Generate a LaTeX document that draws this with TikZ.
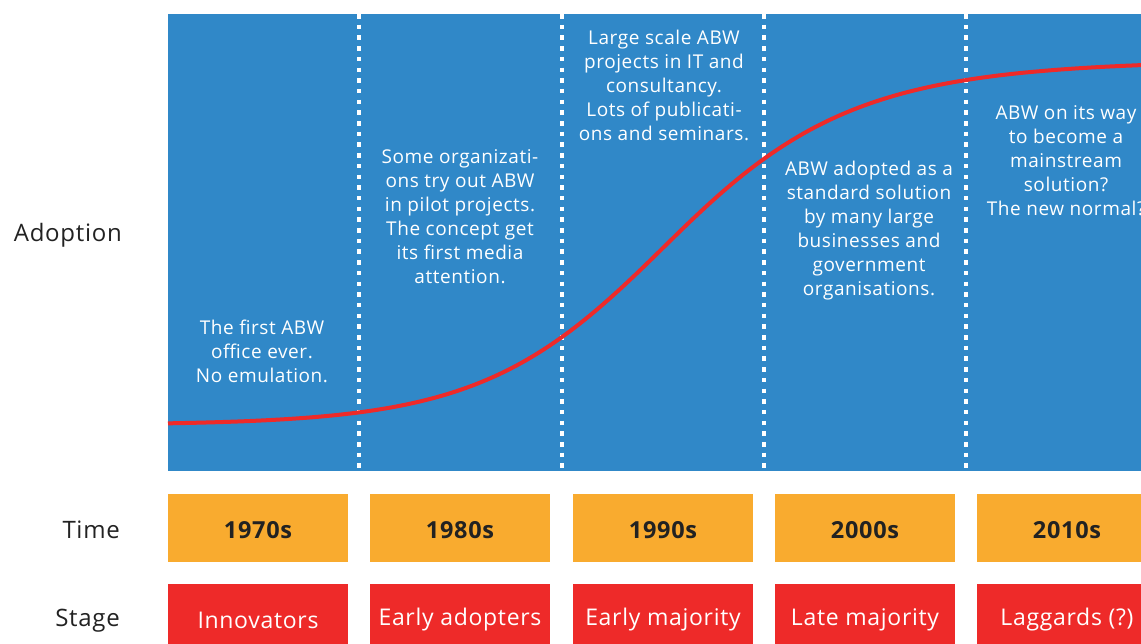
\documentclass[tikz,border=0pt]{standalone}
\usepackage{fontspec}
\setmainfont{Open Sans}[LetterSpace=3]
\definecolor{abwblue}{HTML}{3088C8}
\definecolor{abworange}{HTML}{F9AB2F}
\definecolor{abwred}{HTML}{EE2A29}
\definecolor{abwdark}{HTML}{222222}
\begin{document}
\begin{tikzpicture}[x=1pt,y=-1pt,
  coltext/.style={text=white,align=center,font=\fontsize{19}{24}\selectfont,inner sep=0pt},
  timebox/.style={fill=abworange,minimum width=180pt,minimum height=68pt,inner sep=0pt},
  timetext/.style={text=abwdark,inner sep=0pt,font=\fontsize{23.5}{26}\selectfont\bfseries},
  stagebox/.style={fill=abwred,minimum width=180pt,minimum height=76pt,inner sep=0pt},
  stagetext/.style={text=white,inner sep=0pt,font=\fontsize{23}{27}\selectfont},
  rowlabel/.style={text=abwdark,font=\fontsize{24}{26}\selectfont,anchor=east,inner sep=0pt},
  divider/.style={white,line width=4.5pt,dash pattern=on 4.5pt off 6.2pt}
]
\useasboundingbox (0,0) rectangle (1141,643);
% blue panel
\fill[abwblue] (168,14) rectangle (1141,471);
% dividers
\foreach \i/\x in {1/359,2/562,3/764,4/966}{
  \coordinate (dt\i) at (\x,14);
  \coordinate (db\i) at (\x,471);
  \draw[divider] (dt\i) -- (db\i);
}
% adoption curve
\draw[abwred,line width=4pt] plot[domain=168:1141,samples=180]
  (\x,{425-366/(1+exp(-((\x-669)/93-(max(\x-669,0)/471)^2)))});
% column texts
\node[coltext] (t1) at (262,351) {The first ABW\\office ever.\\No emulation.};
\node[coltext] (t2) at (460,217) {Some organizati-\\ons try out ABW\\in pilot projects.\\The concept get\\its first media\\attention.};
\node[coltext] (t3) at (664,85) {Large scale ABW\\projects in IT and\\consultancy.\\Lots of publicati-\\ons and seminars.};
\node[coltext] (t4) at (869,231) {ABW adopted as a\\standard solution\\by many large\\businesses and\\government\\organisations.};
\node[coltext] (t5) at (1066,161) {ABW on its way\\to become a\\mainstream\\solution?\\The new normal?};
% row labels
\node[rowlabel] (la) at (122,235) {Adoption};
\node[rowlabel] (lt) at (120,530) {Time};
\node[rowlabel] (ls) at (120,621) {Stage};
% time boxes
\foreach \i/\x/\t in {1/258/1970s,2/460/1980s,3/663/1990s,4/865/2000s,5/1067/2010s}{
  \node[timebox] (y\i) at (\x,528) {};
  \node[timetext] (y\i t) at (\x,530) {\t};
}
% stage boxes
\foreach \i/\x/\t in {1/258/Innovators,2/460/Early adopters,3/663/Early majority,4/865/Late majority,5/1067/Laggards (?)}{
  \node[stagebox] (s\i) at (\x,622) {};
  \node[stagetext] (s\i t) at (\x,620) {\t};
}
\end{tikzpicture}
\end{document}
